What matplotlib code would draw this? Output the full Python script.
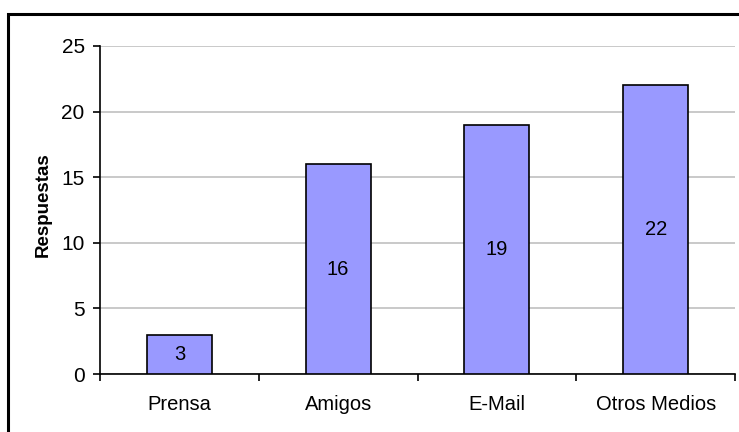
import matplotlib
matplotlib.use("Agg")
import matplotlib.pyplot as plt
from matplotlib.patches import Rectangle

categories = ["Prensa", "Amigos", "E-Mail", "Otros Medios"]
values = [3, 16, 19, 22]
yticks = [0, 5, 10, 15, 20, 25]

plt.rcParams['font.family'] = ['Liberation Sans', 'DejaVu Sans']

W, H = 739, 432
fig = plt.figure(figsize=(W/100, H/100), dpi=100)
ax = fig.add_axes([100/W, 1-374/H, 635/W, (374-46)/H])

x = list(range(len(categories)))
bars = ax.bar(x, values, width=0.41, color="#9999FF", edgecolor="black", linewidth=1.2, zorder=3)
for xi, v in zip(x, values):
    ax.text(xi, v/2, str(v), ha="center", va="center", fontsize=14.5, zorder=4)

ax.set_xlim(-0.5, len(categories)-0.5)
ax.set_ylim(0, 25)
ax.set_yticks(yticks)
ax.set_yticklabels([str(t) for t in yticks], fontsize=15)
ax.set_xticks([i-0.5 for i in range(len(categories)+1)], minor=False)
ax.set_xticklabels([])
ax.set_xticks(x, minor=True)
ax.set_xticklabels(categories, minor=True, fontsize=14.5)
ax.tick_params(axis="x", which="major", length=5, width=1.2, direction="out")
ax.tick_params(axis="x", which="minor", length=0, pad=15)
ax.tick_params(axis="y", length=5, width=1.2, direction="out", pad=6)
ax.grid(axis="y", color="#c0c0c0", linewidth=1.2, zorder=0)
for s in ["top", "right"]:
    ax.spines[s].set_visible(False)
ax.spines["left"].set_linewidth(1.2)
ax.spines["bottom"].set_linewidth(1.2)
ax.set_ylabel("Respuestas", fontsize=13.5, fontweight="bold")
ax.yaxis.set_label_coords(-48/635, 0.515)

fig.patches.append(Rectangle((8/W, -0.1), 1.2, 1-14/H+0.1, transform=fig.transFigure,
                             fill=False, edgecolor="black", linewidth=2.2))
fig.savefig("out.png", dpi=100)
